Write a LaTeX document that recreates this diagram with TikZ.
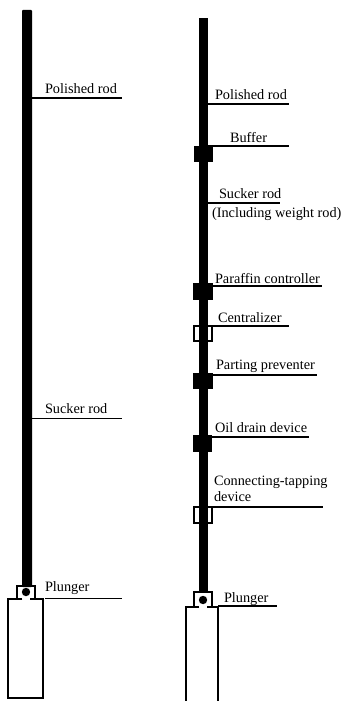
\documentclass[tikz,border=0pt]{standalone}
\usepackage{fontspec}
\setmainfont{Liberation Serif}
\tikzset{
  x=1pt,y=-1pt,
  lab/.style={anchor=base west,inner sep=0pt,outer sep=0pt,font=\fontsize{14.3}{16}\selectfont},
  leader/.style={draw=black,line width=1.1pt},
  rod/.style={fill=black,draw=none},
  outline/.style={draw=black,line width=1.2pt,fill=none},
  solidblock/.style={fill=black,draw=none,inner sep=0pt,outer sep=0pt,minimum width=19.5pt,minimum height=16.5pt},
}
\begin{document}
\begin{tikzpicture}
\useasboundingbox (0,0) rectangle (342,701);
% left assembly
\fill[rod,rounded corners=1pt] (22,10) rectangle (32,587);
\draw[outline] (22,599) -- (17,599) -- (17,586) -- (35,586) -- (35,599) -- (30,599);
\draw[outline] (22,599) -- (8,599) -- (8,698) -- (43,698) -- (43,599) -- (30,599);
\fill (26,592) circle (4.2);
\node[lab] (lpol) at (45,93) {Polished rod};
\node[lab] (lsuc) at (45,413) {Sucker rod};
\node[lab] (lplu) at (45,591) {Plunger};
\coordinate (lpolA) at (32,98); \coordinate (lpolB) at (122,98);
\coordinate (lsucA) at (32,418.5); \coordinate (lsucB) at (122,418.5);
\coordinate (lpluA) at (45,598.5); \coordinate (lpluB) at (122,598.5);
\draw[leader] (lpolA) -- (lpolB);
\draw[leader] (lsucA) -- (lsucB);
\draw[leader] (lpluA) -- (lpluB);
% right assembly
\fill[rod] (199,18) rectangle (208,593);
\node[solidblock] (buffer) at (203.5,154) {};
\node[solidblock] (paraffin) at (203,291.5) {};
\node[solidblock] (parting) at (203,381) {};
\node[solidblock] (oil) at (202.5,443.5) {};
\draw[outline] (194,326) rectangle (212,341);
\draw[outline] (194,507) rectangle (212,523);
\draw[outline] (199,607) -- (194,607) -- (194,592) -- (212,592) -- (212,607) -- (207,607);
\draw[outline] (186,701) -- (186,607) -- (199,607);
\draw[outline] (207,607) -- (218,607) -- (218,701);
\fill (203,600) circle (4.2);
\node[lab] (rpol) at (215,99) {Polished rod};
\node[lab] (rbuf) at (230,142) {Buffer};
\node[lab] (rsuc) at (219,198) {Sucker rod};
\node[lab] (rinc) at (212,217) {(Including weight rod)};
\node[lab] (rpar) at (215,283) {Paraffin controller};
\node[lab] (rcen) at (218,322) {Centralizer};
\node[lab] (rpre) at (216,369) {Parting preventer};
\node[lab] (roil) at (215,432) {Oil drain device};
\node[lab] (rcon) at (214,485) {Connecting-tapping};
\node[lab] (rdev) at (214,501) {device};
\node[lab] (rplu) at (224,602) {Plunger};
\coordinate (a1) at (208,104); \coordinate (b1) at (289,104);
\coordinate (a2) at (208,146); \coordinate (b2) at (289,146);
\coordinate (a3) at (208,203); \coordinate (b3) at (280,203);
\coordinate (a4) at (213,286); \coordinate (b4) at (322,286);
\coordinate (a5) at (208,326); \coordinate (b5) at (289,326);
\coordinate (a6) at (213,375); \coordinate (b6) at (317,375);
\coordinate (a7) at (212,437); \coordinate (b7) at (309,437);
\coordinate (a8) at (208,507); \coordinate (b8) at (323,507);
\coordinate (a9) at (218,606); \coordinate (b9) at (277,606);
\foreach \i in {1,...,9} \draw[leader] (a\i) -- (b\i);
\end{tikzpicture}
\end{document}
